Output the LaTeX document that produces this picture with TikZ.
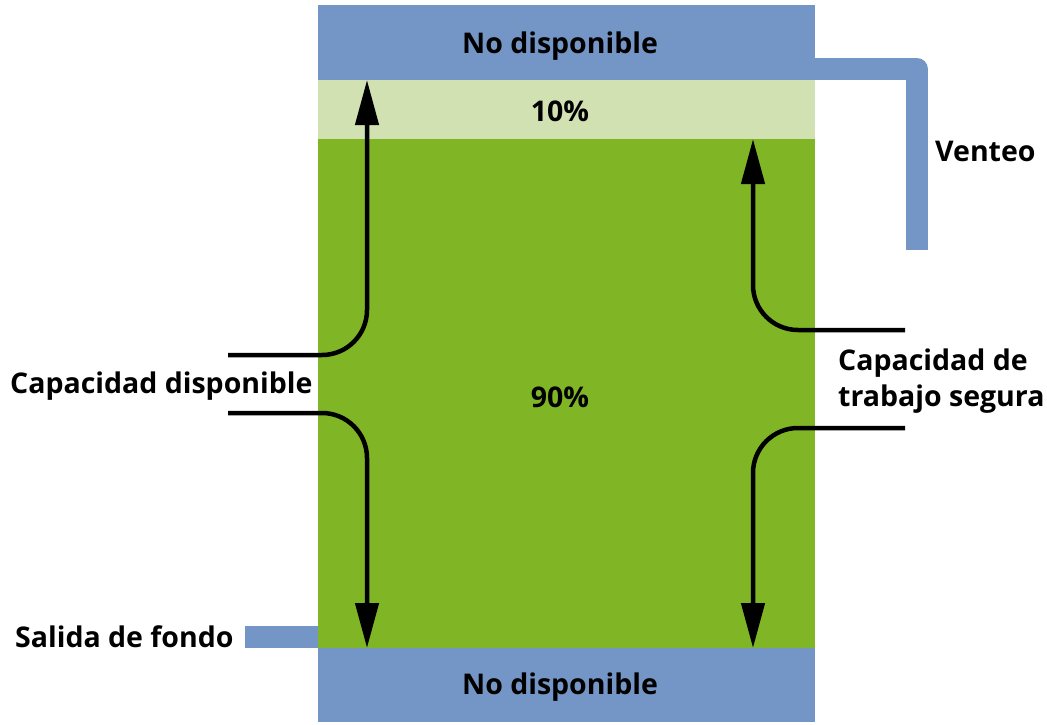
\documentclass[tikz,border=0pt]{standalone}
\usepackage{fontspec}
\setmainfont{Open Sans}
\usetikzlibrary{arrows.meta}
\definecolor{pipeblue}{RGB}{116,150,198}
\definecolor{lightgreen}{RGB}{209,225,178}
\definecolor{darkgreen}{RGB}{128,182,38}
\tikzset{
  lbl/.style={font=\fontsize{28.5}{36}\selectfont\bfseries, inner sep=0pt, text=black},
  flow/.style={line width=4.5pt, rounded corners=45pt, -{Triangle[length=45pt,width=23pt]}},
  pipe/.style={line width=22pt, draw=pipeblue, line join=round}
}
\begin{document}
\begin{tikzpicture}[x=1pt,y=-1pt]
\useasboundingbox (0,0) rectangle (1047,724);
% tank sections
\fill[pipeblue] (318,5) rectangle (815,80);
\fill[lightgreen] (318,80) rectangle (815,139);
\fill[darkgreen] (318,139) rectangle (815,648);
\fill[pipeblue] (318,648) rectangle (815,722);
% pipes
\draw[pipe] (815,69) -- (917,69) -- (917,250);
\fill[pipeblue] (245,626) rectangle (318,648);
% labels
\node[lbl] (top) at (560,46) {No disponible};
\node[lbl] (bot) at (560,687) {No disponible};
\node[lbl] (ten) at (560,111) {10\%};
\node[lbl] (ninety) at (560,397) {90\%};
\node[lbl, anchor=west] (vent) at (935,151) {Venteo};
\node[lbl, anchor=west] (capd) at (10,386) {Capacidad disponible};
\node[lbl, anchor=west, align=left] (capt) at (838,381) {Capacidad de\\trabajo segura};
\node[lbl, anchor=west] (sal) at (15,637) {Salida de fondo};
% coordinates
\coordinate (l1s) at (228,355);
\coordinate (l1c) at (367,355);
\coordinate (l1e) at (367,80);
\coordinate (l2s) at (228,413);
\coordinate (l2c) at (367,413);
\coordinate (l2e) at (367,648);
\coordinate (r1s) at (905,330);
\coordinate (r1c) at (753,330);
\coordinate (r1e) at (753,139);
\coordinate (r2s) at (905,428);
\coordinate (r2c) at (753,428);
\coordinate (r2e) at (753,648);
\draw[flow] (l1s) -- (l1c) -- (l1e);
\draw[flow] (l2s) -- (l2c) -- (l2e);
\draw[flow] (r1s) -- (r1c) -- (r1e);
\draw[flow] (r2s) -- (r2c) -- (r2e);
\end{tikzpicture}
\end{document}
